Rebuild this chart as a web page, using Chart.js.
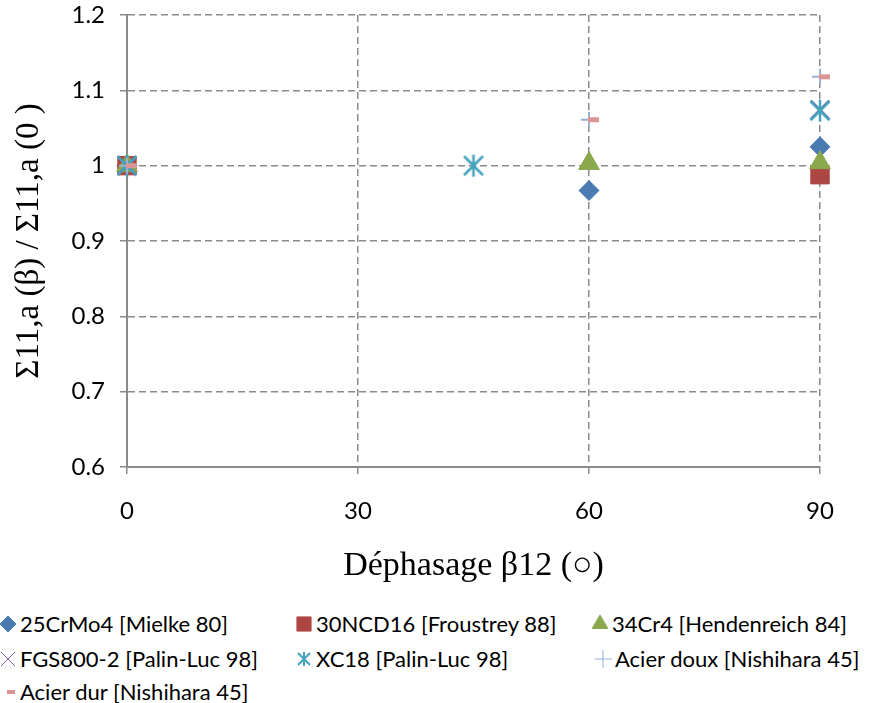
<!DOCTYPE html>
<html>
<head>
<meta charset="utf-8">
<script src="https://cdn.jsdelivr.net/npm/chart.js@4.4.1/dist/chart.umd.min.js"></script>
<style>
  body { margin: 0; background: #fff; }
  #wrap { position: relative; width: 876px; height: 703px; }
  #box { position: absolute; left: 0; top: 0; width: 876px; height: 600px; }
  .leg { position: absolute; font-family: Lato, sans-serif; font-size: 22px; color: #000; white-space: nowrap; line-height: 26px; }
  .leg canvas { position: absolute; top: 0; }
</style>
</head>
<body>
<div id="wrap">
  <div id="box"><canvas id="chart" width="876" height="600"></canvas></div>
  <div id="legend"></div>
</div>
<script>
// series (x = phase shift in degrees, y = ratio)
const mielkeX = [0, 60, 90];
const mielkeY = [1, 0.967, 1.025];
const froustreyX = [0, 90];
const froustreyY = [1, 0.988];
const hendenreichX = [0, 60, 90];
const hendenreichY = [1, 1.003, 1.004];
const fgsX = [0, 90];
const fgsY = [1, 1.074];
const xc18X = [0, 45, 90];
const xc18Y = [1, 1, 1.073];
const douxX = [0, 60, 90];
const douxY = [1, 1.061, 1.118];
const durX = [0, 60, 90];
const durY = [1, 1.061, 1.118];

const seriesNames = [
  "25CrMo4 [Mielke 80]",
  "30NCD16 [Froustrey 88]",
  "34Cr4 [Hendenreich 84]",
  "FGS800-2 [Palin-Luc 98]",
  "XC18 [Palin-Luc 98]",
  "Acier doux [Nishihara 45]",
  "Acier dur [Nishihara 45]",
];
const xTicks = [0, 30, 60, 90];
const yMin = 0.6, yMax = 1.2;

const colors = ["#4a7ab2", "#ac4643", "#8aa84c", "#7b5fa0", "#44a3bd", "#95b1d6", "#db9593"];

// custom markers (asterisk like excel, dash shifted right)
function asterisk(size, color, lw) {
  const c = document.createElement("canvas");
  c.width = size; c.height = size;
  const g = c.getContext("2d");
  const m = lw, s = size - lw;
  g.strokeStyle = color; g.lineWidth = lw;
  g.beginPath();
  g.moveTo(m, m); g.lineTo(s, s);
  g.moveTo(s, m); g.lineTo(m, s);
  g.moveTo(size / 2, 1); g.lineTo(size / 2, size - 1);
  g.stroke();
  return c;
}
function dash(w, h, color) {
  const c = document.createElement("canvas");
  c.width = w * 2; c.height = h + 2;
  const g = c.getContext("2d");
  g.fillStyle = color;
  g.fillRect(w - 1, 1, w, h);
  return c;
}

const pts = (xs, ys) => xs.map((x, i) => ({ x: x, y: ys[i] }));

const datasets = [
  { data: pts(mielkeX, mielkeY), pointStyle: "rectRot", pointRadius: 10 },
  { data: pts(froustreyX, froustreyY), pointStyle: "rect", pointRadius: 13 },
  { data: pts(hendenreichX, hendenreichY), pointStyle: "triangle", pointRadius: 12 },
  { data: pts(fgsX, fgsY), pointStyle: "crossRot", pointRadius: 13, borderWidth: 2.5 },
  { data: pts(xc18X, xc18Y), pointStyle: asterisk(24, colors[4], 2.5), pointRadius: 12 },
  { data: pts(douxX, douxY), pointStyle: "cross", pointRadius: 8, borderWidth: 2 },
  { data: pts(durX, durY), pointStyle: dash(11, 5, colors[6]), pointRadius: 8 },
].map((d, i) => Object.assign({
  label: seriesNames[i],
  order: seriesNames.length - i, // later series on top, like excel
  showLine: false,
  clip: false,
  backgroundColor: colors[i],
  borderColor: colors[i],
  borderWidth: 1,
  pointHoverRadius: d.pointRadius,
}, d));

const gridColor = "#8a8a8a";

new Chart(document.getElementById("chart"), {
  type: "scatter",
  data: { datasets: datasets },
  options: {
    responsive: false,
    animation: false,
    layout: { autoPadding: false, padding: { top: 15, right: 56, left: 0, bottom: 0 } },
    plugins: { legend: { display: false }, tooltip: { enabled: false } },
    scales: {
      x: {
        type: "linear",
        min: 0,
        max: 90,
        afterBuildTicks: (scale) => { scale.ticks = xTicks.map((v) => ({ value: v })); },
        afterFit: (scale) => { scale.height = 133; scale.paddingLeft = 0; scale.paddingRight = 0; },
        ticks: { font: { family: "Lato", size: 24 }, color: "#000", padding: 23 },
        grid: { color: gridColor, lineWidth: 1.5, tickLength: 7, tickColor: gridColor, tickBorderDash: [] },
        border: { color: gridColor, width: 2, dash: [7, 4] },
        title: {
          display: true,
          text: "Déphasage β12 (○)",
          font: { family: "Liberation Serif", size: 34 },
          color: "#000",
          padding: { bottom: 14 },
        },
      },
      y: {
        min: yMin,
        max: yMax,
        ticks: {
          stepSize: 0.1,
          font: { family: "Lato", size: 24 },
          color: "#000",
          padding: 15,
          callback: (v) => String(Number(v.toFixed(1))),
        },
        afterFit: (scale) => { scale.width = 127; scale.paddingTop = 0; scale.paddingBottom = 0; },
        grid: { color: gridColor, lineWidth: 1.5, tickLength: 7, tickColor: gridColor, tickBorderDash: [] },
        border: { color: gridColor, width: 2, dash: [7, 4] },
        title: {
          display: true,
          text: "Σ11,a (β) / Σ11,a (0 )",
          font: { family: "Liberation Serif", size: 33 },
          color: "#000",
          padding: { top: 10 },
        },
      },
    },
  },
});

// legend in three columns like the original
const legendPos = [
  [0, 611], [296, 611], [592, 611],
  [0, 646], [296, 646], [595, 646],
  [0, 679],
];
const legendMarkers = [
  { pointStyle: "rectRot", radius: 8 },
  { pointStyle: "rect", radius: 10 },
  { pointStyle: "triangle", radius: 9 },
  { pointStyle: "crossRot", radius: 10, borderWidth: 1.5 },
  { pointStyle: asterisk(16, colors[4], 2), radius: 8 },
  { pointStyle: "cross", radius: 9, borderWidth: 1.5 },
  { pointStyle: dash(8, 4, colors[6]), radius: 5 },
];
const legendEl = document.getElementById("legend");
seriesNames.forEach((name, i) => {
  const item = document.createElement("div");
  item.className = "leg";
  item.style.left = legendPos[i][0] + "px";
  item.style.top = legendPos[i][1] + "px";
  const mk = document.createElement("canvas");
  mk.width = 18; mk.height = 26;
  mk.style.left = "0px";
  const ctx = mk.getContext("2d");
  ctx.fillStyle = colors[i];
  ctx.strokeStyle = colors[i];
  const m = legendMarkers[i];
  Chart.helpers.drawPoint(ctx, { pointStyle: m.pointStyle, radius: m.radius, borderWidth: m.borderWidth || 1, rotation: 0 }, 8, 13);
  const txt = document.createElement("span");
  txt.style.marginLeft = "20px";
  txt.textContent = name;
  item.appendChild(mk);
  item.appendChild(txt);
  legendEl.appendChild(item);
});
</script>
</body>
</html>
